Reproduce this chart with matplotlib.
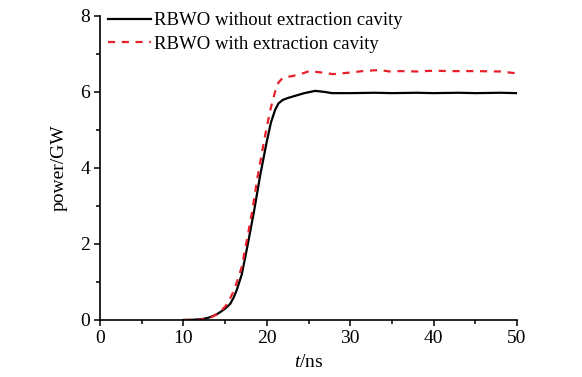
import matplotlib
matplotlib.use("Agg")
import matplotlib.pyplot as plt
from matplotlib.ticker import MultipleLocator

plt.rcParams['font.family'] = ['Liberation Serif', 'DejaVu Serif']
plt.rcParams['mathtext.fontset'] = 'custom'
plt.rcParams['mathtext.rm'] = 'Liberation Serif'
plt.rcParams['mathtext.it'] = 'Liberation Serif:italic'

# Data
t_black = [10, 11, 12, 12.5, 13, 13.5, 14, 14.5, 15, 15.6, 16, 16.4, 17, 17.7, 18.5, 19.2, 20,
           20.5, 21, 21.4, 21.9, 22.5, 23.1, 24.5, 25.8, 27, 27.8, 30, 33, 35, 38, 40, 43, 45, 48, 50]
p_black = [0, 0.005, 0.02, 0.035, 0.06, 0.1, 0.15, 0.22, 0.3, 0.42, 0.58, 0.79, 1.2, 1.97, 2.9, 3.8, 4.7,
           5.2, 5.53, 5.7, 5.79, 5.84, 5.88, 5.97, 6.03, 6.0, 5.97, 5.97, 5.98, 5.97, 5.98, 5.97, 5.98,
           5.97, 5.98, 5.97]

t_red = [10, 12, 12.5, 13, 13.5, 14, 14.5, 15, 15.5, 16, 16.5, 17, 17.5, 18.2, 18.9, 19.5, 20,
         20.5, 21, 21.4, 21.9, 22.5, 23.1, 24.3, 25.1, 26.7, 27.9, 29.9, 31.5, 33.5, 34.7, 36, 38,
         40, 42, 45, 48, 50]
p_red = [0, 0.01, 0.03, 0.05, 0.09, 0.15, 0.24, 0.35, 0.52, 0.75, 1.05, 1.4, 1.97, 2.8, 3.77, 4.5, 5.09,
         5.6, 6.01, 6.25, 6.37, 6.4, 6.42, 6.49, 6.55, 6.51, 6.47, 6.51, 6.55, 6.58, 6.54, 6.55, 6.54,
         6.56, 6.55, 6.55, 6.54, 6.49]

labels = ['RBWO without extraction cavity', 'RBWO with extraction cavity']

fig = plt.figure(figsize=(5.82, 3.77), dpi=100)
ax = fig.add_axes([100/582, 1-320/377, 417/582, 304/377])

ax.plot(t_black, p_black, color='black', lw=1.6, label=labels[0])
ax.plot(t_red, p_red, color='#e8202a', lw=1.6, dashes=(3.2, 3.0), label=labels[1])

ax.set_xlim(0, 50)
ax.set_ylim(0, 8)
ax.xaxis.set_major_locator(MultipleLocator(10))
ax.xaxis.set_minor_locator(MultipleLocator(5))
ax.yaxis.set_major_locator(MultipleLocator(2))
ax.yaxis.set_minor_locator(MultipleLocator(1))
ax.spines['top'].set_visible(False)
ax.spines['right'].set_visible(False)
for s in ('left', 'bottom'):
    ax.spines[s].set_linewidth(1.2)
ax.tick_params(which='major', direction='out', length=4, width=1.1, labelsize=14, pad=3)
ax.tick_params(which='minor', direction='out', length=3, width=1.1)

ax.set_xlabel(r'$t$/ns', fontsize=14, labelpad=5)
ax.set_ylabel('power/GW', fontsize=14, labelpad=9)

ax.legend(loc='upper left', bbox_to_anchor=(0.01, 1.025), frameon=False, fontsize=13.5,
          handlelength=2.3, handletextpad=0.15, labelspacing=0.35, borderpad=0.2,
          borderaxespad=0.0)

fig.savefig('out.png', dpi=100)
